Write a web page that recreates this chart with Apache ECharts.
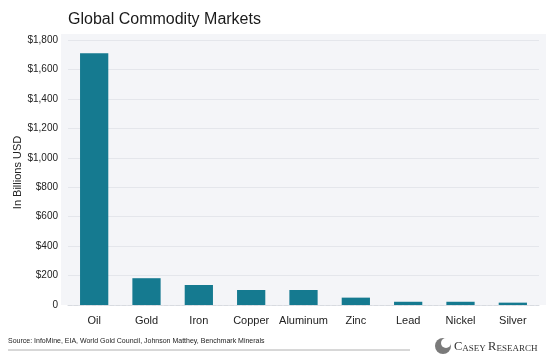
<!DOCTYPE html>
<html>
<head>
<meta charset="utf-8">
<script src="https://cdn.jsdelivr.net/npm/echarts@6/dist/echarts.min.js"></script>
<style>html,body{margin:0;padding:0;background:#fff;}#c{width:550px;height:359px;}</style>
</head>
<body>
<div id="c"></div>
<script>
const categories = ['Oil', 'Gold', 'Iron', 'Copper', 'Aluminum', 'Zinc', 'Lead', 'Nickel', 'Silver'];
const values = [1710, 182, 136, 102, 102, 50, 22, 22, 16];
const yTicks = [0, 200, 400, 600, 800, 1000, 1200, 1400, 1600, 1800];

const sans = "'Liberation Sans', Arial, sans-serif";
const serif = "'Liberation Serif', 'DejaVu Serif', serif";
const chart = echarts.init(document.getElementById('c'), null, {renderer: 'canvas'});
chart.setOption({
  animation: false,
  backgroundColor: '#ffffff',
  title: {
    text: 'Global Commodity Markets',
    left: 63, top: 7,
    textStyle: {fontFamily: sans, fontSize: 16, fontWeight: 'normal', color: '#1a1a1a'}
  },
  graphic: [
    {type: 'rect', z: -10, shape: {x: 61, y: 34, width: 485, height: 271}, style: {fill: '#f4f5f8'}},
    {type: 'text', left: 8, top: 338, style: {text: 'Source: InfoMine, EIA, World Gold Council, Johnson Matthey, Benchmark Minerals', font: "7px " + sans, fill: '#222'}},
    {type: 'line', shape: {x1: 8, y1: 350, x2: 410, y2: 350}, style: {stroke: '#b0b0b0', lineWidth: 1}},
    {type: 'circle', shape: {cx: 443, cy: 346, r: 8}, style: {fill: '#7a7a7a'}},
    {type: 'circle', shape: {cx: 446, cy: 343, r: 5}, style: {fill: '#fff'}},
    {type: 'text', left: 454, top: 340, style: {
      text: '{b|C}{s|ASEY }{b|R}{s|ESEARCH}',
      rich: {
        b: {font: "12.5px " + serif, fill: '#333', verticalAlign: 'bottom'},
        s: {font: "9px " + serif, fill: '#333', verticalAlign: 'bottom'}
      }
    }}
  ],
  grid: {left: 68, right: 11, top: 40, bottom: 54, outerBoundsMode: 'none', containLabel: false},
  xAxis: {
    type: 'category',
    data: categories,
    axisLine: {show: true, lineStyle: {color: '#d8dbe0', type: 'dashed'}},
    axisTick: {show: false},
    axisLabel: {color: '#222', fontSize: 11, fontFamily: sans, margin: 10, interval: 0}
  },
  yAxis: {
    type: 'value',
    min: 0, max: 1800, interval: 200,
    name: 'In Billions USD',
    nameLocation: 'middle',
    nameGap: 45,
    nameMoveOverlap: false,
    nameTextStyle: {color: '#222', fontSize: 11, fontFamily: sans},
    axisLine: {show: false},
    axisTick: {show: false},
    axisLabel: {
      color: '#222', fontSize: 10, fontFamily: sans, margin: 10,
      formatter: v => v === 0 ? '0' : '$' + v.toLocaleString('en-US')
    },
    splitLine: {lineStyle: {color: '#e4e6eb', width: 1}}
  },
  series: [{
    type: 'bar',
    data: values,
    barWidth: '54%',
    itemStyle: {color: '#157a90'}
  }]
});
</script>
</body>
</html>
